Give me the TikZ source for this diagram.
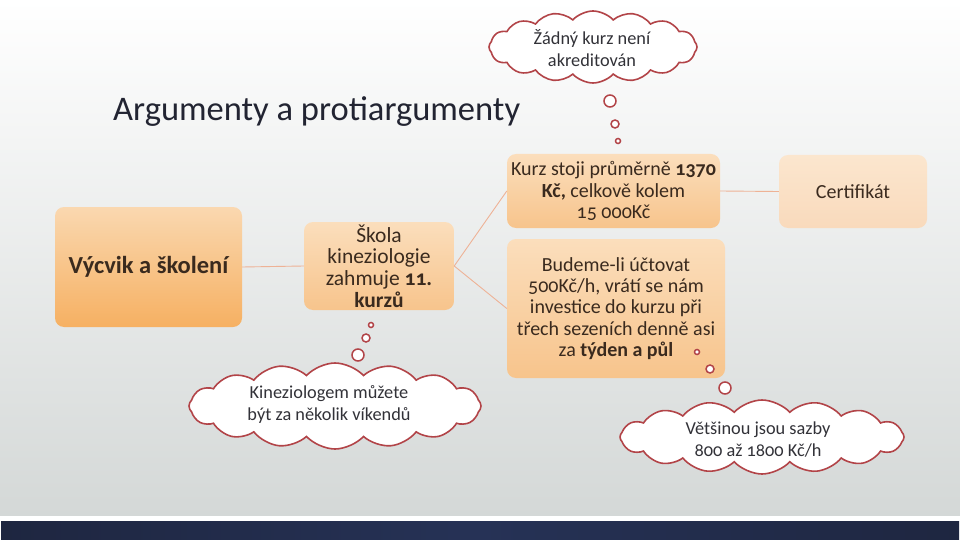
\documentclass[tikz,border=0pt]{standalone}
\usepackage{fontspec}
\setmainfont{Carlito}[Numbers=OldStyle]
\usetikzlibrary{shapes.symbols}
\definecolor{bggray}{RGB}{212,216,215}
\definecolor{navy}{RGB}{30,38,64}
\definecolor{navymid}{RGB}{38,50,86}
\definecolor{titlecol}{RGB}{34,36,50}
\definecolor{boxtxt}{RGB}{58,42,30}
\definecolor{orA}{RGB}{250,216,176}
\definecolor{orB}{RGB}{246,176,98}
\definecolor{orC}{RGB}{251,222,188}
\definecolor{orD}{RGB}{247,196,140}
\definecolor{orE}{RGB}{251,230,206}
\definecolor{orF}{RGB}{249,218,188}
\definecolor{linkcol}{RGB}{238,178,150}
\definecolor{cloudcol}{RGB}{178,68,72}
\definecolor{cloudtxt}{RGB}{50,50,56}
\tikzset{
  box/.style={rounded corners=9pt, inner sep=0pt, align=center, text=boxtxt,
    font=\fontsize{20}{21.4}\selectfont},
  link/.style={draw=linkcol, line width=0.9pt},
  cloudbox/.style={cloud, cloud puffs=16, cloud puff arc=95, draw=cloudcol, line width=1.6pt,
    fill=white, inner sep=0pt, cloud ignores aspect},
  cloudtext/.style={align=center, text=cloudtxt, font=\fontsize{18.3}{22}\selectfont, inner sep=0pt},
  bubble/.style={circle, draw=cloudcol, line width=1.5pt, fill=white, inner sep=0pt},
}
\begin{document}
\begin{tikzpicture}[x=1pt,y=-1pt]
\useasboundingbox (0,0) rectangle (960,540);
\shade[top color=white, bottom color=bggray] (0,0) rectangle (960,516);
\fill[white] (0,516) rectangle (960,521);
\shade[left color=navy, right color=navy, middle color=navymid] (1,521) rectangle (959,540);

\node[anchor=west, text=titlecol, font=\fontsize{34.5}{40}\selectfont, inner sep=0pt] (title) at (113,112) {Argumenty a protiargumenty};

\node[box, top color=orA, bottom color=orB, minimum width=187pt, minimum height=120pt,
  font=\fontsize{24.5}{28}\selectfont\bfseries] (vyc) at (148.5,267) {Výcvik a školení};
\node[box, top color=orC, bottom color=orD, minimum width=150pt, minimum height=88pt,
  font=\fontsize{21.5}{21.7}\selectfont] (skola) at (379,266)
  {Škola\\kineziologie\\zahmuje \textbf{11.}\\\textbf{kurzů}};
\node[box, top color=orC, bottom color=orD, minimum width=213pt, minimum height=74pt] (kurz) at (613.5,191)
  {Kurz stoji průměrně \textbf{1370}\\\textbf{Kč,} celkově kolem\\15 000Kč};
\node[box, top color=orE, bottom color=orF, minimum width=148pt, minimum height=73pt] (cert) at (853,191.5)
  {Certifikát};
\node[box, top color=orC, bottom color=orD, minimum width=218pt, minimum height=139pt] (bud) at (616,308.5)
  {Budeme-li účtovat\\500Kč/h, vrátí se nám\\investice do kurzu při\\třech sezeních denně asi\\za \textbf{týden a půl}};

\draw[link] (vyc.east) -- (skola.west);
\draw[link] (skola.east) -- (kurz.west);
\draw[link] (skola.east) -- (bud.west);
\draw[link] (kurz.east) -- (cert.west);

% cloud 1
\node[cloudbox, minimum width=208pt, minimum height=72pt] (c1) at (593,47) {};
\node[cloudtext] (t1) at (592,48) {Žádný kurz není\\akreditován};
\node[bubble, minimum size=12pt] (b1a) at (610,101) {};
\node[bubble, minimum size=8pt] (b1b) at (615,124) {};
\node[bubble, minimum size=5pt] (b1c) at (618,141) {};

% cloud 2
\node[cloudbox, minimum width=292pt, minimum height=86pt] (c2) at (335,406) {};
\node[cloudtext] (t2) at (329,404) {Kineziologem můžete\\být za několik víkendů};
\node[bubble, minimum size=5pt] (b2a) at (371,325) {};
\node[bubble, minimum size=8pt] (b2b) at (366,338) {};
\node[bubble, minimum size=12pt] (b2c) at (358,355) {};

% cloud 3
\node[cloudbox, minimum width=284pt, minimum height=74pt] (c3) at (762,437) {};
\node[cloudtext] (t3) at (758,440) {Většinou jsou sazby\\800 až 1800 Kč/h};
\node[bubble, minimum size=5pt] (b3a) at (697,352) {};
\node[bubble, minimum size=8pt] (b3b) at (710,369) {};
\node[bubble, minimum size=12pt] (b3c) at (725,388) {};
\end{tikzpicture}
\end{document}
